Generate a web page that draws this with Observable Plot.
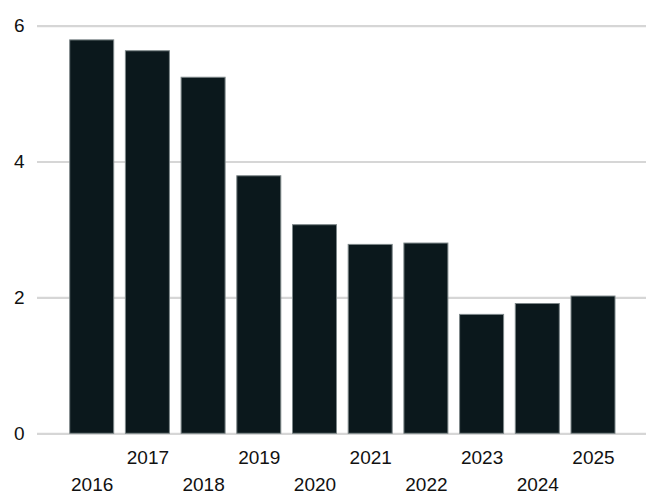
<!DOCTYPE html>
<html>
<head>
<meta charset="utf-8">
<script src="https://cdn.jsdelivr.net/npm/d3@7"></script>
<script src="https://cdn.jsdelivr.net/npm/@observablehq/plot@0.6"></script>
<style>
  html, body { margin: 0; padding: 0; background: #fff; }
  svg { display: block; }
</style>
</head>
<body>
<div id="chart"></div>
<script>
const years = ["2016","2017","2018","2019","2020","2021","2022","2023","2024","2025"];
const values = [5.79, 5.63, 5.24, 3.79, 3.07, 2.78, 2.80, 1.75, 1.91, 2.02];
const yTicks = [0, 2, 4, 6];
const rowTop = years.filter((d, i) => i % 2 === 1);
const rowBottom = years.filter((d, i) => i % 2 === 0);

const data = years.map((y, i) => ({year: y, value: values[i]}));

const font = "Liberation Sans, Arial, sans-serif";

const chart = Plot.plot({
  width: 646,
  height: 492,
  marginLeft: 37,
  marginRight: 0,
  marginTop: 25.6,
  marginBottom: 58.7,
  style: {fontFamily: font, fontSize: "19px", color: "#111", background: "#fff"},
  x: {domain: years, padding: 0.21, round: false, insetLeft: 21, insetRight: 19.3, label: null},
  y: {domain: [0, 6], label: null},
  marks: [
    Plot.ruleY(yTicks, {stroke: "#d6d6d6", strokeWidth: 2.2}),
    Plot.barY(data, {x: "year", y: "value", fill: "#0b181c", stroke: "#7d8789", strokeWidth: 1}),
    Plot.axisY({ticks: yTicks, tickFormat: d3.format("d"), tickSize: 0, tickPadding: 13, fontSize: 19, label: null, fill: "#111"}),
    Plot.axisX({ticks: rowTop, tickSize: 0, tickPadding: 17, fontSize: 19, label: null, fill: "#111"}),
    Plot.axisX({ticks: rowBottom, tickSize: 0, tickPadding: 44, fontSize: 19, label: null, fill: "#111"})
  ]
});
document.getElementById("chart").appendChild(chart);
</script>
</body>
</html>
